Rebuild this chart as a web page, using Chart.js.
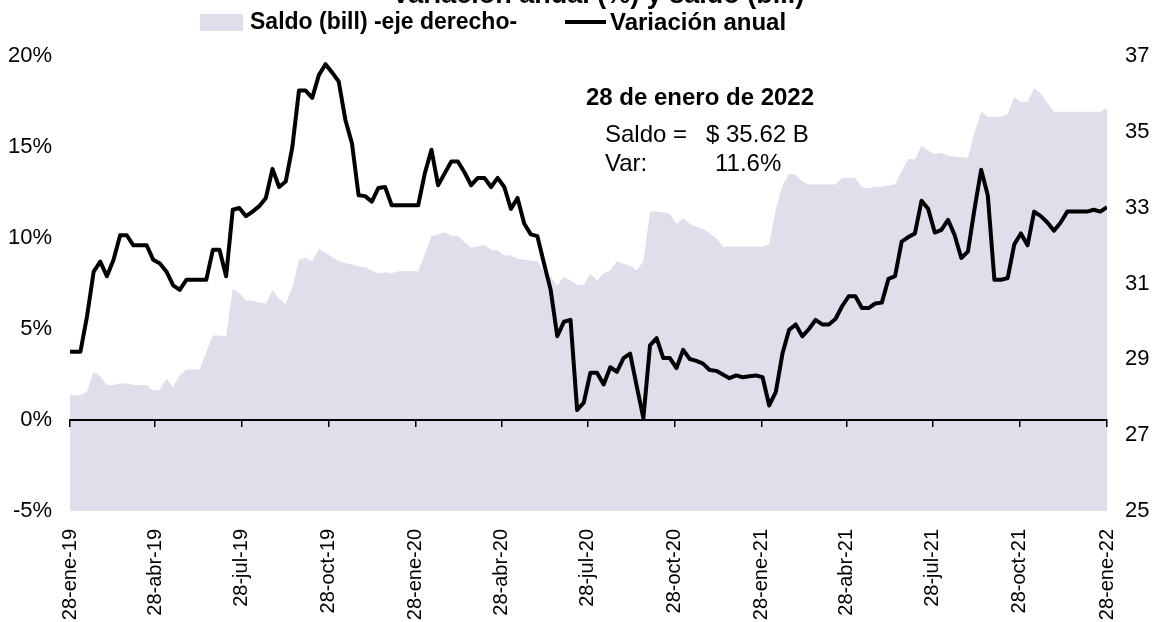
<!DOCTYPE html>
<html><head><meta charset="utf-8">
<script src="https://cdn.jsdelivr.net/npm/chart.js@4.4.1/dist/chart.umd.min.js"></script>
<style>html,body{margin:0;padding:0;background:#fff;overflow:hidden}#wrap{position:relative;width:1155px;height:622px}</style>
</head><body><div id="wrap"><canvas id="c" width="1155" height="622"></canvas></div>
<script>
const firstDate = '2019-01-25';
const axisStart = '2019-01-28';
const axisEnd = '2022-01-28';
const tickDates = ['2019-01-28','2019-04-28','2019-07-28','2019-10-28','2020-01-28','2020-04-28','2020-07-28','2020-10-28','2021-01-28','2021-04-28','2021-07-28','2021-10-28','2022-01-28'];
const tickLabels = ['28-ene-19','28-abr-19','28-jul-19','28-oct-19','28-ene-20','28-abr-20','28-jul-20','28-oct-20','28-ene-21','28-abr-21','28-jul-21','28-oct-21','28-ene-22'];
const leftTicks = [-5, 0, 5, 10, 15, 20];
const rightTicks = [25, 27, 29, 31, 33, 35, 37];
const variacion = [3.75,3.75,3.75,5.7,8.15,8.7,7.9,8.8,10.15,10.15,9.6,9.6,9.6,8.8,8.6,8.15,7.4,7.15,7.7,7.7,7.7,7.7,9.35,9.35,7.9,11.55,11.65,11.2,11.45,11.75,12.2,13.8,12.8,13.1,15.0,18.1,18.1,17.7,18.95,19.55,19.1,18.6,16.5,15.2,12.35,12.3,12.0,12.75,12.8,11.8,11.8,11.8,11.8,11.8,13.55,14.85,12.9,13.55,14.2,14.2,13.6,12.9,13.3,13.3,12.8,13.3,12.8,11.6,12.2,10.8,10.2,10.1,8.6,7.15,4.6,5.4,5.5,0.55,0.95,2.6,2.6,1.95,2.9,2.65,3.4,3.65,1.85,0.1,4.1,4.5,3.4,3.4,2.85,3.85,3.35,3.25,3.1,2.75,2.7,2.5,2.3,2.45,2.35,2.4,2.45,2.35,0.8,1.55,3.65,4.95,5.25,4.6,5.0,5.5,5.25,5.25,5.55,6.25,6.8,6.8,6.15,6.15,6.4,6.45,7.75,7.9,9.8,10.05,10.25,12.05,11.6,10.3,10.45,11.0,10.15,8.9,9.25,11.6,13.75,12.35,7.7,7.7,7.8,9.65,10.25,9.6,11.45,11.2,10.85,10.4,10.85,11.45,11.45,11.45,11.45,11.55,11.45,11.7];
const saldo = [28.05,28.05,28.05,28.15,28.68,28.55,28.32,28.32,28.36,28.36,28.32,28.32,28.32,28.17,28.2,28.49,28.27,28.58,28.73,28.73,28.73,29.19,29.63,29.63,29.6,30.86,30.74,30.55,30.55,30.5,30.47,30.82,30.6,30.45,30.9,31.62,31.67,31.59,31.91,31.82,31.69,31.59,31.54,31.5,31.45,31.43,31.34,31.27,31.3,31.27,31.32,31.32,31.32,31.32,31.78,32.24,32.29,32.35,32.26,32.26,32.09,31.94,31.98,32.02,31.89,31.87,31.74,31.74,31.65,31.63,31.6,31.59,31.3,31.17,30.95,31.18,31.08,30.97,30.97,31.26,31.08,31.27,31.34,31.59,31.52,31.47,31.34,31.59,32.9,32.9,32.88,32.83,32.57,32.73,32.57,32.5,32.44,32.33,32.2,31.97,31.97,31.97,31.97,31.97,31.97,31.97,32.04,32.97,33.58,33.9,33.87,33.69,33.61,33.61,33.61,33.61,33.61,33.78,33.78,33.78,33.53,33.52,33.55,33.55,33.58,33.62,33.97,34.28,34.28,34.63,34.5,34.41,34.45,34.37,34.35,34.33,34.31,34.98,35.53,35.4,35.4,35.4,35.47,35.92,35.79,35.79,36.15,36.01,35.77,35.53,35.53,35.53,35.53,35.53,35.53,35.53,35.53,35.62];
const titleText = 'Variación anual (%) y saldo (bill)';
const legendLabels = ['Saldo (bill) -eje derecho-', 'Variación anual'];
const noteTitle = '28 de enero de 2022';
const noteRows = [['Saldo =', '$ 35.62 B'], ['Var:', '11.6%']];

const DAY = 86400000;
const toUTC = s => { const p = s.split('-').map(Number); return Date.UTC(p[0], p[1]-1, p[2]); };
const dayOf = s => Math.round((toUTC(s) - toUTC(axisStart)) / DAY);
const tickDays = tickDates.map(dayOf);
const startDay = dayOf(firstDate);
const dataDays = variacion.map((_, i) => startDay + 7 * i);

const FONT = 'Liberation Sans, Arial, Helvetica, sans-serif';
const AREA = '#E1DDEB';
Chart.defaults.color = '#000';
Chart.defaults.font.family = FONT;

const setTicks = s => { s.ticks = tickDays.map(v => ({ value: v })); };

const overlay = {
  id: 'overlay',
  afterDraw(chart) {
    const ctx = chart.ctx;
    const ds = chart.data.datasets;
    ctx.save();
    ctx.fillStyle = '#000';
    ctx.textBaseline = 'alphabetic';
    ctx.textAlign = 'center';
    ctx.font = 'bold 27px ' + FONT;
    ctx.fillText(titleText, 598, 3);
    // legend
    ctx.textBaseline = 'middle';
    ctx.textAlign = 'left';
    ctx.font = 'bold 23px ' + FONT;
    ctx.fillStyle = ds[1].backgroundColor;
    ctx.fillRect(200, 14, 43, 17);
    ctx.fillStyle = '#000';
    ctx.fillText(legendLabels[0], 250, 23);
    ctx.strokeStyle = ds[0].borderColor;
    ctx.lineWidth = ds[0].borderWidth;
    ctx.beginPath(); ctx.moveTo(565, 22); ctx.lineTo(606, 22); ctx.stroke();
    ctx.font = 'bold 24px ' + FONT;
    ctx.fillText(legendLabels[1], 610, 23);
    // note
    ctx.textAlign = 'center';
    ctx.font = 'bold 24px ' + FONT;
    ctx.fillText(noteTitle, 700, 98);
    ctx.textAlign = 'left';
    ctx.font = '24px ' + FONT;
    ctx.fillText(noteRows[0][0], 605, 135);
    ctx.fillText(noteRows[0][1], 706, 135);
    ctx.fillText(noteRows[1][0], 605, 164);
    ctx.fillText(noteRows[1][1], 715, 164);
    ctx.restore();
  }
};

new Chart(document.getElementById('c'), {
  data: {
    datasets: [
      { type: 'line', label: legendLabels[1], data: dataDays.map((d, i) => ({ x: d, y: variacion[i] })),
        xAxisID: 'x', yAxisID: 'y', borderColor: '#000', borderWidth: 4, pointRadius: 0, tension: 0,
        fill: false, clip: 0, borderJoinStyle: 'round', order: 0 },
      { type: 'line', label: legendLabels[0], data: dataDays.map((d, i) => ({ x: d, y: saldo[i] })),
        xAxisID: 'x', yAxisID: 'y1', borderColor: 'rgba(0,0,0,0)', borderWidth: 0, backgroundColor: AREA,
        pointRadius: 0, tension: 0, fill: 'start', clip: 0, order: 1 }
    ]
  },
  options: {
    responsive: false, animation: false,
    layout: { padding: { top: 56, left: 0, right: 0, bottom: 0 } },
    plugins: { legend: { display: false }, tooltip: { enabled: false }, title: { display: false } },
    scales: {
      x: { type: 'linear', position: 'bottom', min: tickDays[0], max: tickDays[tickDays.length - 1],
        afterBuildTicks: setTicks, afterFit: s => { s.height = 111; },
        grid: { display: false, drawTicks: false }, border: { display: false },
        ticks: { autoSkip: false, maxRotation: 90, minRotation: 90, padding: 18, color: '#000',
          font: { family: FONT, size: 20 }, callback: v => tickLabels[tickDays.indexOf(v)] } },
      x0: { type: 'linear', axis: 'x', position: { y: 0 }, min: tickDays[0], max: tickDays[tickDays.length - 1],
        afterBuildTicks: setTicks,
        ticks: { display: false },
        grid: { display: true, drawOnChartArea: false, drawTicks: true, tickLength: 6, color: '#000', lineWidth: 1.5, z: 1 },
        border: { display: true, color: '#000', width: 2, z: 1 } },
      y: { type: 'linear', position: 'left', min: leftTicks[0], max: leftTicks[leftTicks.length - 1],
        afterBuildTicks: s => { s.ticks = leftTicks.map(v => ({ value: v })); },
        afterFit: s => { s.width = 70; },
        grid: { display: false, drawTicks: false }, border: { display: false },
        ticks: { padding: 18, color: '#000', font: { family: FONT, size: 22 }, callback: v => v + '%' } },
      y1: { type: 'linear', position: 'right', min: rightTicks[0], max: rightTicks[rightTicks.length - 1],
        afterBuildTicks: s => { s.ticks = rightTicks.map(v => ({ value: v })); },
        afterFit: s => { s.width = 48; },
        grid: { display: false, drawTicks: false }, border: { display: false },
        ticks: { padding: 18, color: '#000', font: { family: FONT, size: 22 } } }
    }
  },
  plugins: [overlay]
});
</script></body></html>
